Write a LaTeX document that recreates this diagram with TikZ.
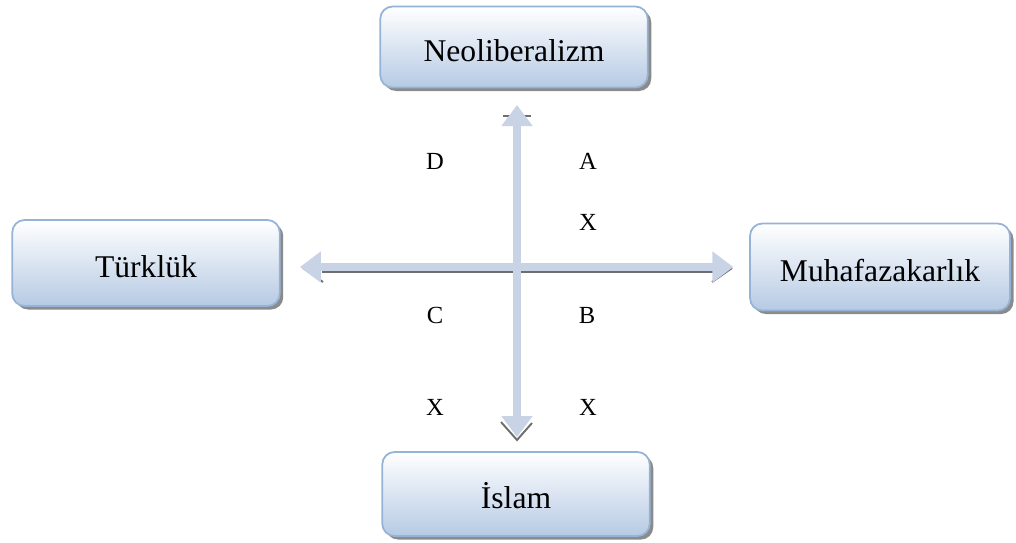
\documentclass[tikz,border=0pt]{standalone}
\usepackage{fontspec}
\setmainfont{Liberation Serif}
\usetikzlibrary{arrows.meta,positioning,shadows}
\definecolor{bd}{RGB}{149,179,215}
\definecolor{bt}{RGB}{182,202,228}
\definecolor{ar}{RGB}{201,211,230}
\definecolor{sh}{RGB}{110,110,110}

\begin{document}
\begin{tikzpicture}[
    x=0.02cm,y=-0.02cm,
    box/.style={rectangle,draw=bd,line width=1pt,rounded corners=7pt,top color=white,bottom color=bt,
        minimum width=5.35cm,minimum height=1.62cm,font=\fontsize{18}{20}\selectfont,
        text height=17pt,text depth=0pt,
        drop shadow={shadow xshift=2pt,shadow yshift=-2pt,fill=sh,opacity=0.8}},
    lbl/.style={font=\fontsize{14}{16}\selectfont},
    arr/.style={ar,line width=4.5pt,{Triangle[width=0.6cm,length=0.42cm]}-{Triangle[width=0.6cm,length=0.42cm]}},
    arrsh/.style={sh,line width=1.1pt},
]
\useasboundingbox (0,0) rectangle (1016,542);

\node[box] (neo) at (514,47) {Neoliberalizm};
\node[box,minimum height=1.72cm] (tur) at (146,263) {Türklük};
\node[box,minimum width=5.2cm,minimum height=1.74cm] (muh) at (880,267) {Muhafazakarlık};
\node[box,minimum height=1.68cm] (isl) at (516,494) {İslam};

\coordinate (c) at (517,267);

% axis shadows
\draw[arrsh] (c) ++(-195,5) -- ++(394,0);
\draw[arrsh] (c) ++(-214,1) -- ++(20,14);
\draw[arrsh] (c) ++(215,1) -- ++(-20,14);
\draw[arrsh] (c) ++(-16,155) -- ++(16,18) -- ++(15,-17);
\draw[arrsh,line width=0.6pt] (c) ++(-14,-151) -- ++(10,0) ++(8,0) -- ++(10,0);

% axes
\draw[arr,shorten <=9.5pt,shorten >=8pt] (neo.south -| c) -- (isl.north -| c);
\draw[arr,shorten <=11pt,shorten >=9pt] (tur.east |- c) -- (muh.west |- c);

\node[lbl] (d) at (435,161) {D};
\node[lbl] (a) at (588,161) {A};
\node[lbl] (x1) at (588,222) {X};
\node[lbl] (cc) at (435,315) {C};
\node[lbl] (b) at (587,315) {B};
\node[lbl] (x2) at (435,407) {X};
\node[lbl] (x3) at (588,407) {X};
\end{tikzpicture}
\end{document}
